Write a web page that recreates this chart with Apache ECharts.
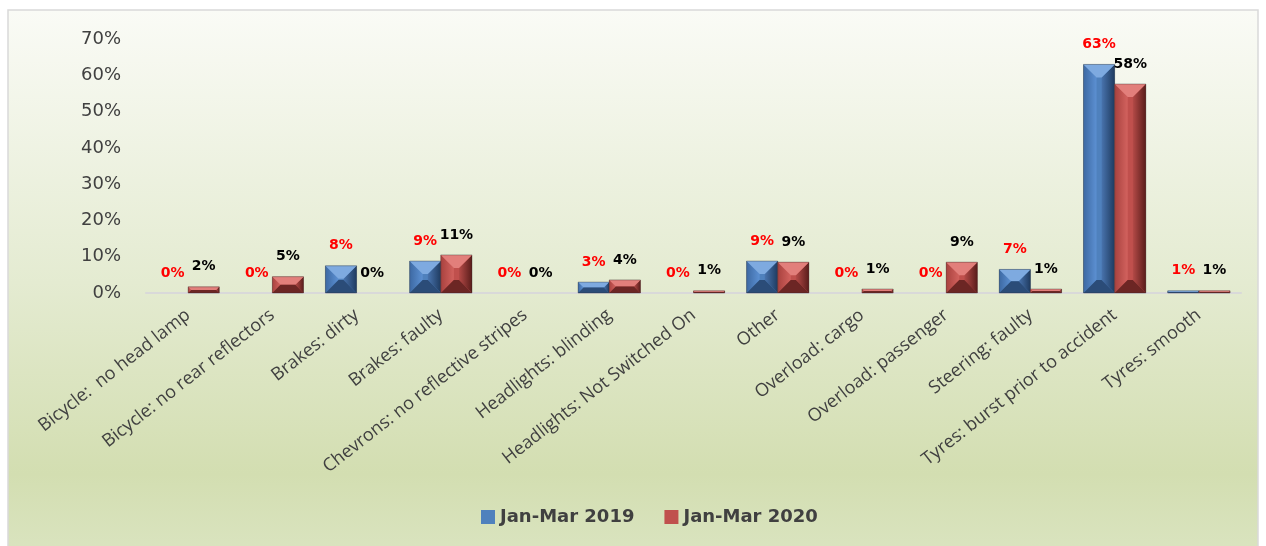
<!DOCTYPE html>
<html>
<head>
<meta charset="utf-8">
<title>Defects</title>
<script src="https://cdn.jsdelivr.net/npm/echarts@6/dist/echarts.min.js"></script>
<style>
    * { margin: 0; padding: 0; }
    html, body { background: #fff; }
    #main { width: 1266px; height: 546px; }
</style>
</head>
<body>
<div id="main"></div>
<script>
    var categories = ['Bicycle:  no head lamp', 'Bicycle: no rear reflectors', 'Brakes: dirty', 'Brakes: faulty',
        'Chevrons: no reflective stripes', 'Headlights: blinding', 'Headlights: Not Switched On', 'Other',
        'Overload: cargo', 'Overload: passenger', 'Steering: faulty', 'Tyres: burst prior to accident', 'Tyres: smooth'];
    var jan2019 = [0, 0, 7.5, 8.8, 0, 3.0, 0, 8.8, 0, 0, 6.5, 63.0, 0.6];
    var jan2020 = [1.7, 4.5, 0, 10.5, 0, 3.6, 0.6, 8.5, 1.1, 8.5, 1.1, 57.6, 0.6];
    var seriesNames = ['Jan-Mar 2019', 'Jan-Mar 2020'];
    var yTicks = [0, 10, 20, 30, 40, 50, 60, 70];

    // facet colours for the bevelled bars: top, left(edge,inner), right(inner,edge), bottom
    var shades = [
        { base: '#4f81bd', top: '#7eaae0', l0: '#3d69a3', l1: '#5c90d2', r0: '#4873ad', r1: '#1f3b60', bottom: '#2b4c78', label: '#ff0000' },
        { base: '#c0504d', top: '#e27f7b', l0: '#a9423f', l1: '#d2625e', r0: '#b44a47', r1: '#5a1d1b', bottom: '#6c2624', label: '#000000' }
    ];

    function hgrad(c0, c1) {
        return { type: 'linear', x: 0, y: 0, x2: 1, y2: 0, colorStops: [{ offset: 0, color: c0 }, { offset: 1, color: c1 }] };
    }

    function renderBar(params, api) {
        var s = shades[params.seriesIndex];
        var idx = api.value(0), val = api.value(1);
        var p1 = api.coord([idx, val]);
        var p0 = api.coord([idx, 0]);
        var w = api.size([1, 0])[0] * 0.37;
        var x0 = params.seriesIndex === 0 ? p0[0] - w : p0[0];
        var x1 = x0 + w;
        var y0 = p1[1], y1 = p0[1];
        var h = y1 - y0;
        var cx = (x0 + x1) / 2;
        var children = [];
        if (h > 0.5) {
            var d = Math.min(w / 2, h / 2, 13);
            var ix = Math.max(0, (w - 2 * d) / 2);
            var a = [cx - ix, y0 + d], b = [cx + ix, y0 + d], c = [cx + ix, y1 - d], e = [cx - ix, y1 - d];
            children.push({ type: 'rect', shape: { x: x0, y: y0, width: w, height: h }, style: { fill: s.base } });
            children.push({ type: 'polygon', shape: { points: [[x0, y0], a, e, [x0, y1]] }, style: { fill: hgrad(s.l0, s.l1) } });
            children.push({ type: 'polygon', shape: { points: [[x1, y0], b, c, [x1, y1]] }, style: { fill: hgrad(s.r0, s.r1) } });
            children.push({ type: 'polygon', shape: { points: [[x0, y0], [x1, y0], b, a] }, style: { fill: s.top } });
            children.push({ type: 'polygon', shape: { points: [[x0, y1], [x1, y1], c, e] }, style: { fill: s.bottom } });
            children.push({ type: 'rect', shape: { x: x0, y: y0, width: w, height: h }, style: { fill: 'none', stroke: 'rgba(40,40,40,0.35)', lineWidth: 1 } });
        }
        children.push({
            type: 'text',
            x: cx, y: y0 - 13,
            style: {
                text: Math.round(val) + '%',
                fill: s.label,
                font: 'bold 14px "DejaVu Sans"',
                align: 'center',
                verticalAlign: 'bottom'
            }
        });
        return { type: 'group', children: children };
    }

    function seriesData(arr) {
        return arr.map(function (v, i) { return [i, v]; });
    }

    var chart = echarts.init(document.getElementById('main'));
    var option = {
        animation: false,
        textStyle: { fontFamily: 'DejaVu Sans' },
        graphic: [{
            type: 'rect', z: -10, silent: true,
            shape: { x: 8, y: 10, width: 1250, height: 545 },
            style: {
                fill: { type: 'linear', x: 0, y: 0, x2: 0, y2: 1, colorStops: [
                    { offset: 0, color: '#fafbf6' },
                    { offset: 0.5, color: '#e4ebd1' },
                    { offset: 0.85, color: '#d3deb1' },
                    { offset: 1, color: '#dae4c0' }
                ] },
                stroke: '#d9d9d9', lineWidth: 1.5
            }
        }],
        grid: { left: 146, right: 25, top: 39, bottom: 253 },
        legend: {
            data: seriesNames,
            bottom: 15,
            left: 476,
            icon: 'rect',
            itemWidth: 14,
            itemHeight: 14,
            itemGap: 30,
            textStyle: { fontSize: 18, fontWeight: 'bold', color: '#404040', fontFamily: 'DejaVu Sans' }
        },
        xAxis: {
            type: 'category',
            data: categories,
            axisTick: { show: false },
            axisLine: { lineStyle: { color: '#d9d9d9', width: 2 } },
            axisLabel: {
                interval: 0,
                rotate: 38,
                margin: 20,
                fontSize: 18,
                color: '#404040',
                fontFamily: 'Open Sans'
            }
        },
        yAxis: {
            type: 'value',
            min: yTicks[0],
            max: yTicks[yTicks.length - 1],
            interval: 10,
            splitLine: { show: false },
            axisLine: { show: false },
            axisLabel: {
                formatter: '{value}%',
                fontSize: 18,
                color: '#404040',
                margin: 25
            }
        },
        series: [
            {
                name: seriesNames[0], type: 'custom', renderItem: renderBar,
                itemStyle: { color: shades[0].base },
                encode: { x: 0, y: 1 },
                data: seriesData(jan2019)
            },
            {
                name: seriesNames[1], type: 'custom', renderItem: renderBar,
                itemStyle: { color: shades[1].base },
                encode: { x: 0, y: 1 },
                data: seriesData(jan2020)
            }
        ]
    };
    chart.setOption(option);
</script>
</body>
</html>
